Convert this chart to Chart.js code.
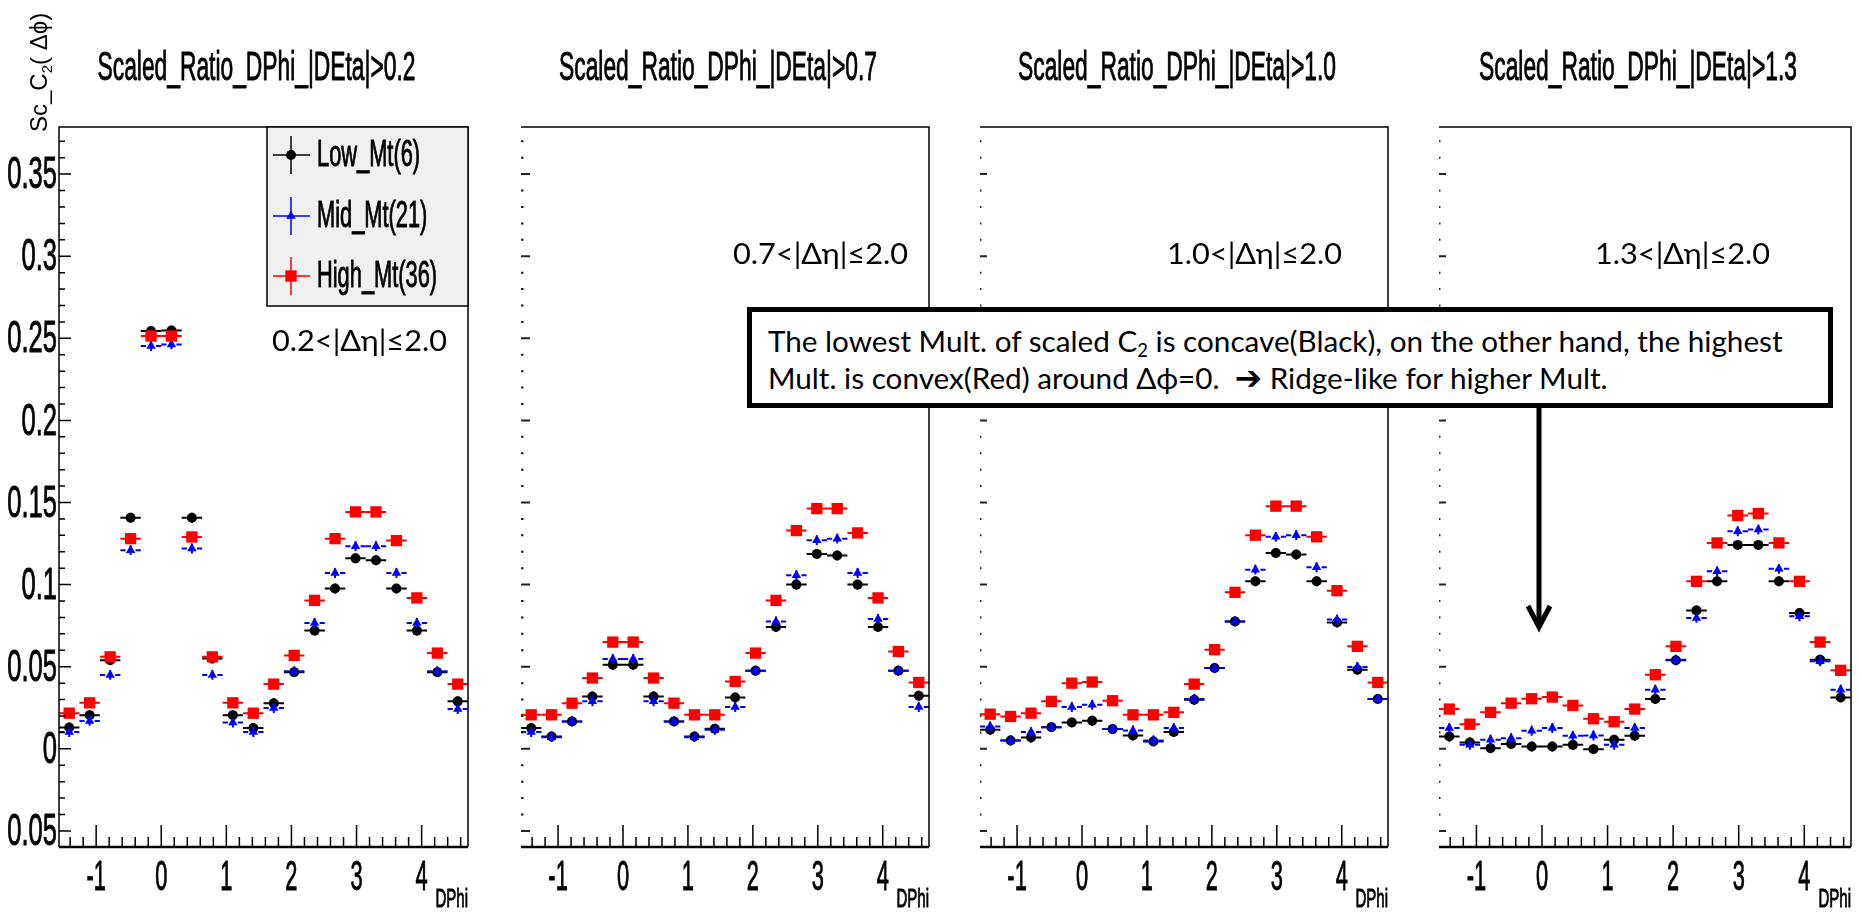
<!DOCTYPE html>
<html>
<head>
<meta charset="utf-8">
<script src="https://cdn.jsdelivr.net/npm/chart.js@4.4.1/dist/chart.umd.min.js"></script>
<style>
  body { margin: 0; background: #fff; }
  #stage { position: relative; width: 1860px; height: 912px; overflow: hidden; background: #fff; }
  #stage canvas { position: absolute; top: 0; }
  #note {
    position: absolute; left: 747px; top: 307px; width: 1086px; height: 101px;
    box-sizing: border-box; border: 5px solid #000; background: #fff; z-index: 5;
  }
  #note .ln {
    position: absolute; left: 16px; white-space: nowrap; color: #000;
    font-family: Lato, "Noto Sans", sans-serif; font-size: 28px; line-height: 1;
  }
  #note sub { font-size: 0.62em; vertical-align: -0.25em; line-height: 0; }
  #note .arr { font-family: "DejaVu Sans", sans-serif; font-weight: bold; font-size: 1.1em; }
  #arrow { position: absolute; left: 0; top: 0; z-index: 4; }
</style>
</head>
<body>
<div id="stage">
  <svg id="arrow" width="1860" height="912">
    <line x1="1539" y1="405" x2="1539" y2="625" stroke="#000" stroke-width="5" />
    <polyline points="1528,606 1539,627 1550,606" fill="none" stroke="#000" stroke-width="5" />
  </svg>
  <div id="note">
    <div class="ln" id="ln1">The lowest Mult. of scaled C<sub>2</sub> is concave(Black), on the other hand, the highest</div>
    <div class="ln" id="ln2">Mult. is convex(Red) around Δϕ=0.&nbsp; <span class="arr">➔</span> Ridge-like for higher Mult.</div>
  </div>
</div>
<script>
// bin centres in DPhi (20 bins from -pi/2 to 3pi/2)
const dphi = [-1.414, -1.100, -0.785, -0.471, -0.157, 0.157, 0.471, 0.785, 1.100, 1.414,
              1.728, 2.042, 2.356, 2.670, 2.985, 3.299, 3.613, 3.927, 4.241, 4.555];
const binHalf = 0.157;
const statErr = 0.003;

// |DEta| > 0.2
const low02  = [0.0130, 0.0205, 0.0540, 0.1407, 0.2545, 0.2547, 0.1407, 0.0550, 0.0205, 0.0126,
                0.0278, 0.0467, 0.0720, 0.0976, 0.1160, 0.1148, 0.0976, 0.0720, 0.0467, 0.0289];
const mid02  = [0.0102, 0.0170, 0.0450, 0.1210, 0.2453, 0.2463, 0.1220, 0.0450, 0.0160, 0.0102,
                0.0248, 0.0472, 0.0766, 0.1070, 0.1234, 0.1234, 0.1070, 0.0766, 0.0472, 0.0242];
const high02 = [0.0217, 0.0280, 0.0560, 0.1280, 0.2514, 0.2514, 0.1290, 0.0560, 0.0280, 0.0217,
                0.0394, 0.0569, 0.0904, 0.1280, 0.1443, 0.1443, 0.1268, 0.0919, 0.0583, 0.0394];
// |DEta| > 0.7
const low07  = [0.0126, 0.0075, 0.0167, 0.0319, 0.0512, 0.0512, 0.0319, 0.0167, 0.0075, 0.0122,
                0.0313, 0.0476, 0.0742, 0.1000, 0.1187, 0.1177, 0.1000, 0.0742, 0.0476, 0.0323];
const mid07  = [0.0102, 0.0071, 0.0167, 0.0289, 0.0547, 0.0547, 0.0289, 0.0167, 0.0071, 0.0116,
                0.0254, 0.0476, 0.0776, 0.1057, 0.1270, 0.1280, 0.1071, 0.0791, 0.0476, 0.0254];
const high07 = [0.0207, 0.0207, 0.0278, 0.0431, 0.0650, 0.0650, 0.0431, 0.0278, 0.0207, 0.0207,
                0.0410, 0.0583, 0.0904, 0.1329, 0.1463, 0.1463, 0.1315, 0.0919, 0.0593, 0.0404];
// |DEta| > 1.0
const low10  = [0.0116, 0.0051, 0.0069, 0.0132, 0.0161, 0.0171, 0.0120, 0.0081, 0.0045, 0.0102,
                0.0299, 0.0492, 0.0776, 0.1020, 0.1193, 0.1183, 0.1020, 0.0770, 0.0482, 0.0303];
const mid10  = [0.0136, 0.0051, 0.0102, 0.0132, 0.0254, 0.0268, 0.0120, 0.0112, 0.0051, 0.0126,
                0.0303, 0.0492, 0.0776, 0.1091, 0.1291, 0.1301, 0.1106, 0.0787, 0.0498, 0.0303];
const high10 = [0.0211, 0.0197, 0.0217, 0.0289, 0.0400, 0.0407, 0.0293, 0.0207, 0.0207, 0.0222,
                0.0394, 0.0604, 0.0953, 0.1301, 0.1478, 0.1478, 0.1291, 0.0963, 0.0624, 0.0404];
// |DEta| > 1.3
const low13  = [0.0075, 0.0039, 0.0004, 0.0030, 0.0014, 0.0014, 0.0024, -0.0002, 0.0055, 0.0079,
                0.0303, 0.0539, 0.0843, 0.1020, 0.1242, 0.1242, 0.1020, 0.0827, 0.0543, 0.0313];
const mid13  = [0.0126, 0.0024, 0.0055, 0.0065, 0.0110, 0.0126, 0.0079, 0.0081, 0.0024, 0.0126,
                0.0360, 0.0543, 0.0797, 0.1081, 0.1325, 0.1335, 0.1096, 0.0807, 0.0533, 0.0360];
const high13 = [0.0242, 0.0150, 0.0222, 0.0278, 0.0305, 0.0315, 0.0264, 0.0183, 0.0165, 0.0242,
                0.0451, 0.0624, 0.1020, 0.1254, 0.1421, 0.1433, 0.1254, 0.1020, 0.0650, 0.0478];

const panelTitles = ['Scaled_Ratio_DPhi_|DEta|>0.2', 'Scaled_Ratio_DPhi_|DEta|>0.7',
                     'Scaled_Ratio_DPhi_|DEta|>1.0', 'Scaled_Ratio_DPhi_|DEta|>1.3'];
const etaLabels = ['0.2<|Δη|≤2.0', '0.7<|Δη|≤2.0', '1.0<|Δη|≤2.0', '1.3<|Δη|≤2.0'];
const seriesNames = ['Low_Mt(6)', 'Mid_Mt(21)', 'High_Mt(36)'];
const xTickVals = [-1, 0, 1, 2, 3, 4];
const xTickLabels = ['-1', '0', '1', '2', '3', '4'];
const yTickVals = [-0.05, 0, 0.05, 0.1, 0.15, 0.2, 0.25, 0.3, 0.35];
const yTickLabels = ['0.05', '0', '0.05', '0.1', '0.15', '0.2', '0.25', '0.3', '0.35'];

const panelSeries = [[low02, mid02, high02], [low07, mid07, high07],
                     [low10, mid10, high10], [low13, mid13, high13]];

// layout
const X_MIN = -1.5708, X_MAX = 4.7124, Y_MIN = -0.0598, Y_MAX = 0.3787;
const canvasLeft = [0, 476, 937, 1396];
const canvasRight = [476, 937, 1396, 1860];
const areaLeft = [59, 521, 980, 1439];
const areaRight = [472, 933, 1392, 1851];
const AREA_TOP = 127, AREA_BOTTOM = 847;
const etaPos = [[272, 342], [733, 255], [1167, 255], [1595, 255]];
const yTickLen = [[12, 6], [9, 2.5], [7, 1.5], [7, 1.5]];
const styles = [
  { style: 'circle', radius: 5, color: '#000000', gap: 0 },
  { style: 'triangle', radius: 5.5, color: '#0000ff', gap: 5 },
  { style: 'rect', radius: 8, color: '#ff0000', gap: 0 }
];
const ROOT_FONT = '"Liberation Sans", Arial, sans-serif';

// squeezed ROOT-style text (a light stroke gives the heavier look of the original)
function sqText(ctx, txt, x, y, size, sx, align, base) {
  ctx.save();
  ctx.translate(x, y);
  ctx.scale(sx, 1);
  ctx.font = size + 'px ' + ROOT_FONT;
  ctx.fillStyle = '#000';
  ctx.strokeStyle = '#000';
  ctx.lineWidth = 0.9;
  ctx.textAlign = align;
  ctx.textBaseline = base;
  ctx.fillText(txt, 0, 0);
  ctx.strokeText(txt, 0, 0);
  ctx.restore();
}

function marker(ctx, s, x, y) {
  ctx.fillStyle = s.color;
  ctx.beginPath();
  if (s.style === 'circle') {
    ctx.arc(x, y, s.radius, 0, Math.PI * 2);
  } else if (s.style === 'triangle') {
    const r = s.radius;
    ctx.moveTo(x, y - r);
    ctx.lineTo(x + r * 0.866, y + r * 0.5);
    ctx.lineTo(x - r * 0.866, y + r * 0.5);
    ctx.closePath();
  } else {
    const h = s.radius * Math.SQRT1_2;
    ctx.rect(x - h, y - h, 2 * h, 2 * h);
  }
  ctx.fill();
}

function makeRootPlugin(p) {
  const off = canvasLeft[p];
  return {
    id: 'rootDeco' + p,
    beforeDatasetDraw(chart, args) {
      const ds = chart.data.datasets[args.index];
      const s = styles[args.index];
      const xs = chart.scales.x, ys = chart.scales.y;
      const ctx = chart.ctx;
      ctx.save();
      ctx.strokeStyle = s.color;
      ctx.lineWidth = 2;
      args.meta.data.forEach((pt, i) => {
        const v = ds.data[i];
        const x0 = xs.getPixelForValue(v.x - binHalf);
        const x1 = xs.getPixelForValue(v.x + binHalf);
        const yU = ys.getPixelForValue(v.y + statErr);
        const yD = ys.getPixelForValue(v.y - statErr);
        ctx.beginPath();
        ctx.moveTo(x0, pt.y); ctx.lineTo(pt.x - s.gap, pt.y);
        ctx.moveTo(pt.x + s.gap, pt.y); ctx.lineTo(x1, pt.y);
        ctx.moveTo(pt.x, yU); ctx.lineTo(pt.x, yD);
        ctx.stroke();
      });
      ctx.restore();
    },
    afterDraw(chart) {
      const ctx = chart.ctx;
      const a = chart.chartArea;
      const xs = chart.scales.x, ys = chart.scales.y;
      ctx.save();

      // frame
      ctx.strokeStyle = '#000';
      ctx.lineWidth = 1.5;
      ctx.beginPath();
      if (p === 0) { ctx.moveTo(a.left, a.bottom); ctx.lineTo(a.left, a.top); }
      else ctx.moveTo(a.left, a.top);
      ctx.lineTo(a.right, a.top);
      ctx.lineTo(a.right, a.bottom);
      ctx.stroke();
      ctx.lineWidth = 2.5;
      ctx.beginPath();
      ctx.moveTo(a.left, a.bottom); ctx.lineTo(a.right, a.bottom);
      ctx.stroke();

      // x ticks (inward)
      ctx.lineWidth = 1.5;
      ctx.beginPath();
      for (let k = -7; k <= 23; k++) {
        const v = k / 5;
        const px = xs.getPixelForValue(v);
        if (px < a.left + 1 || px > a.right - 1) continue;
        const len = (k % 5 === 0) ? 22 : 10;
        ctx.moveTo(px, a.bottom); ctx.lineTo(px, a.bottom - len);
      }
      ctx.stroke();

      // y ticks (inward)
      ctx.strokeStyle = p === 0 ? '#000' : '#222';
      ctx.lineWidth = p === 0 ? 1.5 : 2;
      ctx.beginPath();
      for (let k = -5; k <= 37; k++) {
        const py = ys.getPixelForValue(k / 100);
        if (py < a.top + 1 || py > a.bottom - 1) continue;
        const len = (k % 5 === 0) ? yTickLen[p][0] : yTickLen[p][1];
        ctx.moveTo(a.left, py); ctx.lineTo(a.left + len, py);
      }
      ctx.stroke();

      // x tick labels + axis name
      xTickVals.forEach((v, i) => {
        sqText(ctx, xTickLabels[i], xs.getPixelForValue(v), 878, 42, 0.52, 'center', 'middle');
      });
      sqText(ctx, 'DPhi', a.right, 900, 25, 0.6, 'right', 'middle');

      // title
      sqText(ctx, panelTitles[p], (a.left + a.right) / 2 - 7, 80, 40, 0.57, 'center', 'alphabetic');

      // eta range label
      ctx.save();
      ctx.font = '28px Lato, "Noto Sans", sans-serif';
      const w = ctx.measureText(etaLabels[p]).width;
      ctx.translate(etaPos[p][0] - off, etaPos[p][1]);
      ctx.scale(175 / w, 1);
      ctx.fillStyle = '#000';
      ctx.textAlign = 'left';
      ctx.textBaseline = 'middle';
      ctx.fillText(etaLabels[p], 0, 0);
      ctx.restore();

      if (p === 0) {
        // y tick labels
        yTickVals.forEach((v, i) => {
          sqText(ctx, yTickLabels[i], a.left - 2, ys.getPixelForValue(v) + 2, 44, 0.58, 'right', 'middle');
        });

        // y axis title
        ctx.save();
        ctx.translate(47, 132);
        ctx.rotate(-Math.PI / 2);
        ctx.fillStyle = '#000';
        ctx.textBaseline = 'alphabetic';
        ctx.textAlign = 'left';
        ctx.font = '24px ' + ROOT_FONT;
        let cx = 0;
        ctx.fillText('Sc_C', cx, 0); cx += ctx.measureText('Sc_C').width;
        ctx.font = '15px ' + ROOT_FONT;
        ctx.fillText('2', cx, 5); cx += ctx.measureText('2').width;
        ctx.font = '24px ' + ROOT_FONT;
        ctx.fillText('( Δϕ)', cx, 0);
        ctx.restore();

        // legend box
        const lx0 = 267, ly0 = a.top, lx1 = a.right, ly1 = 306;
        ctx.fillStyle = '#f0f0f0';
        ctx.fillRect(lx0, ly0, lx1 - lx0, ly1 - ly0);
        ctx.strokeStyle = '#000';
        ctx.lineWidth = 1.5;
        ctx.strokeRect(lx0, ly0, lx1 - lx0, ly1 - ly0);
        const rows = [155, 216, 276];
        seriesNames.forEach((name, i) => {
          const s = styles[i];
          const y = rows[i];
          ctx.strokeStyle = s.color;
          ctx.lineWidth = 1.5;
          ctx.beginPath();
          ctx.moveTo(273, y); ctx.lineTo(310, y);
          ctx.moveTo(291, y - 19); ctx.lineTo(291, y + 19);
          ctx.stroke();
          marker(ctx, s, 291, y);
          sqText(ctx, name, 317, y + 1, 37, 0.59, 'left', 'middle');
        });
      }
      ctx.restore();
    }
  };
}

const stage = document.getElementById('stage');
for (let p = 0; p < 4; p++) {
  const cv = document.createElement('canvas');
  const w = canvasRight[p] - canvasLeft[p];
  cv.width = w;
  cv.height = 912;
  cv.style.left = canvasLeft[p] + 'px';
  cv.style.width = w + 'px';
  cv.style.height = '912px';
  stage.insertBefore(cv, stage.firstChild);

  const datasets = panelSeries[p].map((vals, i) => ({
    label: seriesNames[i],
    data: vals.map((v, k) => ({ x: dphi[k], y: v })),
    pointStyle: styles[i].style,
    pointRadius: styles[i].radius,
    pointBorderWidth: 0,
    backgroundColor: styles[i].color,
    borderColor: styles[i].color,
    order: 2 - i
  }));

  new Chart(cv, {
    type: 'scatter',
    data: { datasets: datasets },
    options: {
      responsive: false,
      animation: false,
      events: [],
      layout: {
        padding: {
          left: areaLeft[p] - canvasLeft[p],
          right: canvasRight[p] - areaRight[p],
          top: AREA_TOP,
          bottom: 912 - AREA_BOTTOM
        }
      },
      scales: {
        x: { type: 'linear', min: X_MIN, max: X_MAX, display: false },
        y: { type: 'linear', min: Y_MIN, max: Y_MAX, display: false }
      },
      plugins: { legend: { display: false }, tooltip: { enabled: false } }
    },
    plugins: [makeRootPlugin(p)]
  });
}

// fit the note text to the width of the original box lines
const ln1 = document.getElementById('ln1');
const ln2 = document.getElementById('ln2');
const w1 = ln1.getBoundingClientRect().width;
const fs = 28 * 1015 / w1;
ln1.style.fontSize = fs + 'px';
ln2.style.fontSize = fs + 'px';
ln1.style.top = (40 - 0.887 * fs) + 'px';
ln2.style.top = (76 - 0.887 * fs) + 'px';
</script>
</body>
</html>
